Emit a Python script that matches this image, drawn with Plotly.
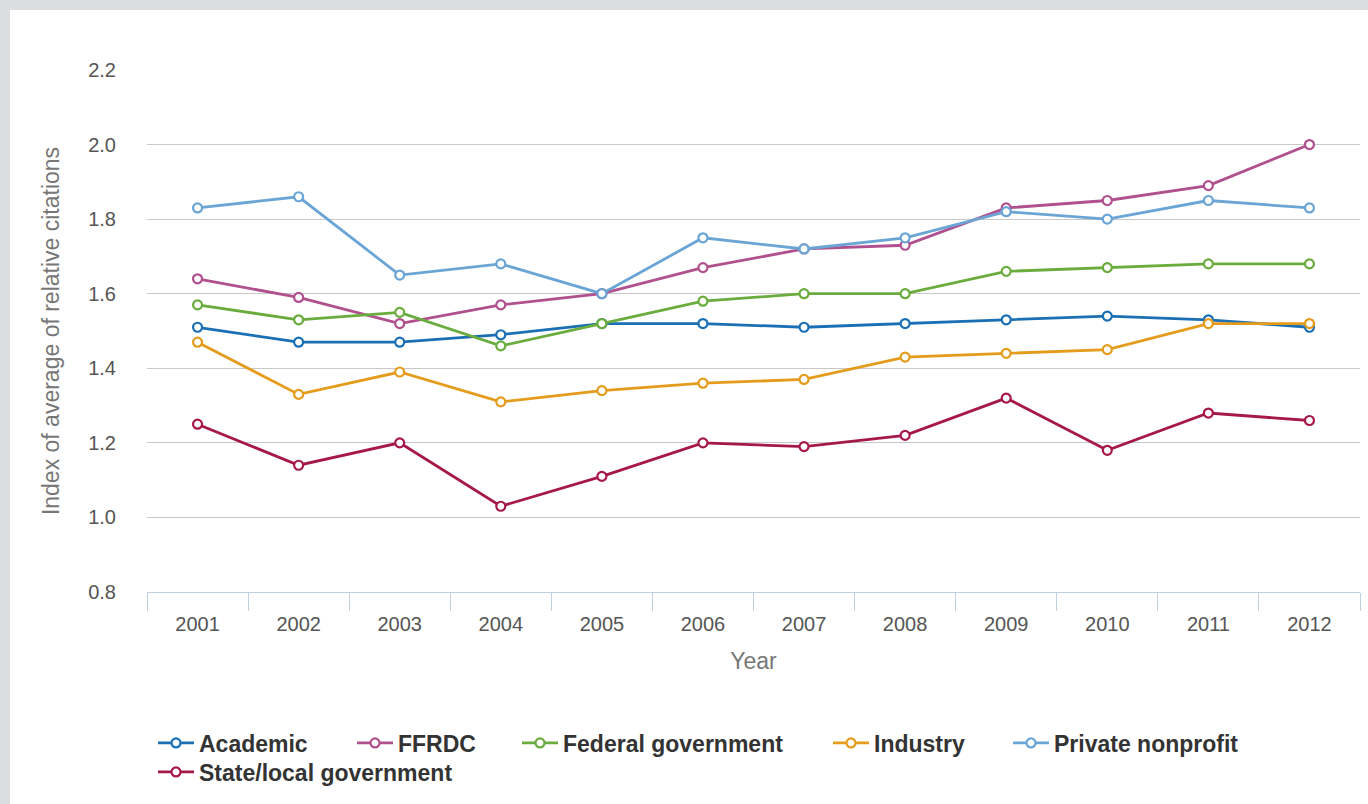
import plotly.graph_objects as go

years = ["2001", "2002", "2003", "2004", "2005", "2006",
         "2007", "2008", "2009", "2010", "2011", "2012"]

academic = [1.51, 1.47, 1.47, 1.49, 1.52, 1.52, 1.51, 1.52, 1.53, 1.54, 1.53, 1.51]
ffrdc = [1.64, 1.59, 1.52, 1.57, 1.60, 1.67, 1.72, 1.73, 1.83, 1.85, 1.89, 2.00]
federal = [1.57, 1.53, 1.55, 1.46, 1.52, 1.58, 1.60, 1.60, 1.66, 1.67, 1.68, 1.68]
industry = [1.47, 1.33, 1.39, 1.31, 1.34, 1.36, 1.37, 1.43, 1.44, 1.45, 1.52, 1.52]
private_nonprofit = [1.83, 1.86, 1.65, 1.68, 1.60, 1.75, 1.72, 1.75, 1.82, 1.80, 1.85, 1.83]
state_local = [1.25, 1.14, 1.20, 1.03, 1.11, 1.20, 1.19, 1.22, 1.32, 1.18, 1.28, 1.26]

series_names = ["Academic", "FFRDC", "Federal government", "Industry",
                "Private nonprofit", "State/local government"]
series_values = [academic, ffrdc, federal, industry, private_nonprofit, state_local]
series_colors = ["#1a6fb5", "#b0508e", "#6aac3e", "#e59c1c", "#6aa5d6", "#a6184b"]

# page geometry (pixels): plot area spans x 147..1360, y 70..592
W, H = 1368, 804
L, R, T, B = 147, 8, 70, 212
pw, ph = W - L - R, H - T - B


def px_x(p):
    return (p - L) / pw


def px_y(p):
    return (H - B - p) / ph


# each legend entry gets its own legend box, laid out in two rows
legend_spots = [(158, 743), (357, 743), (522, 743), (833, 743), (1013, 743), (158, 772)]

fig = go.Figure()
legend_layouts = {}
for i, (name, vals, color) in enumerate(zip(series_names, series_values, series_colors)):
    key = "legend" if i == 0 else f"legend{i + 1}"
    fig.add_trace(go.Scatter(
        x=years, y=vals, name=name, mode="lines+markers",
        line=dict(color=color, width=2.8),
        marker=dict(symbol="circle", size=9, color="white",
                    line=dict(color=color, width=2.2)),
        legend=key,
    ))
    sx, sy = legend_spots[i]
    legend_layouts[key] = dict(
        x=px_x(sx - 5), y=px_y(sy), xanchor="left", yanchor="middle",
        orientation="h", bgcolor="rgba(0,0,0,0)", itemwidth=36,
        font=dict(family="Liberation Sans, Arial, sans-serif", size=23,
                  color="#333333", weight="bold"),
    )

fig.add_shape(type="rect", xref="paper", yref="paper",
              x0=px_x(10), x1=px_x(1400), y0=px_y(830), y1=px_y(10),
              fillcolor="white", line=dict(width=0), layer="below")

fig.update_layout(
    width=W, height=H,
    margin=dict(l=L, r=R, t=T, b=B, pad=0),
    paper_bgcolor="#dcdde0",
    plot_bgcolor="white",
    font=dict(family="Liberation Sans, Arial, sans-serif", color="#555555"),
    showlegend=True,
    xaxis=dict(
        type="category", showgrid=False, zeroline=False,
        showline=True, linecolor="#c0d0e0", linewidth=1,
        ticks="outside", tickson="boundaries", ticklen=18, tickcolor="#c0d0e0",
        ticklabelstandoff=14,
        tickfont=dict(size=20, color="#555555"),
        title=dict(text="Year", font=dict(size=23, color="#777777"), standoff=18),
        range=[-0.5, 11.5],
    ),
    yaxis=dict(
        range=[0.8, 2.2], dtick=0.2, tick0=0.8, tickformat=".1f",
        showgrid=True, gridcolor="#c8c8c8", gridwidth=1, zeroline=False,
        showline=False, ticks="", ticklabelstandoff=30,
        tickfont=dict(size=20, color="#555555"),
        title=dict(text="Index of average of relative citations",
                   font=dict(size=23, color="#777777"), standoff=22),
    ),
    **legend_layouts,
)

fig.write_html("out.html")
